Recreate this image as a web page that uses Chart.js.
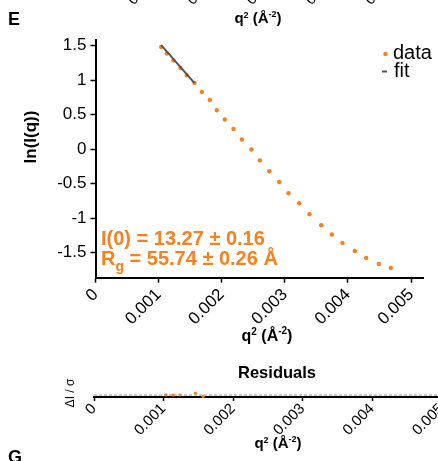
<!DOCTYPE html>
<html>
<head>
<meta charset="utf-8">
<script src="https://cdn.jsdelivr.net/npm/chart.js@4"></script>
<style>
  html, body { margin: 0; padding: 0; background: #fff; overflow: hidden; width: 438px; height: 461px; }
  canvas { position: absolute; left: 0; }
  #guinier { top: 0; }
  #residuals { top: 350px; }
</style>
</head>
<body>
<canvas id="guinier" width="438" height="350"></canvas>
<canvas id="residuals" width="500" height="111"></canvas>
<script>
// Guinier region: q^2 (1/A^2) vs ln(I(q))
const q2 = [0.001041, 0.00113, 0.001236, 0.001347, 0.001447, 0.001569, 0.001685, 0.001811,
  0.001922, 0.002049, 0.002187, 0.002319, 0.002472, 0.002604, 0.002753, 0.002911, 0.003059,
  0.003228, 0.003391, 0.003577, 0.003745, 0.003914, 0.004109, 0.00429, 0.00449, 0.00468];
const lnI = [1.483, 1.387, 1.286, 1.178, 1.072, 0.961, 0.83, 0.714, 0.565, 0.43, 0.294, 0.142,
  -0.003, -0.162, -0.319, -0.474, -0.638, -0.783, -0.942, -1.101, -1.236, -1.358, -1.474,
  -1.575, -1.662, -1.72];

// linear fit over the first points
const fitQ2 = [0.001041, 0.001569];
const fitLnI = [1.508, 0.959];

// normalised residuals of the fitted points
const resQ2 = [0.001036, 0.00114, 0.001237, 0.00146, 0.00157];
const resValues = [0.1, 0, 0, 1.8, -1.3];
const zeroLineQ2 = [0, 0.0052];

const xTicks = [0, 0.001, 0.002, 0.003, 0.004, 0.005];
const xTickLabels = ["0", "0.001", "0.002", "0.003", "0.004", "0.005"];
const yTicks = [-1.5, -1, -0.5, 0, 0.5, 1, 1.5];
const yTickLabels = ["-1.5", "-1", "-0.5", "0", "0.5", "1", "1.5"];

const FONT = '"Liberation Sans", Arial, sans-serif';
const ORANGE = "#f5821f";
const INK = "#000";

function points(xs, ys) {
  return xs.map((x, i) => ({ x: x, y: ys[i] }));
}

// draws a run of text pieces with their own size / vertical shift
function richText(ctx, parts, x, y, align) {
  let total = 0;
  parts.forEach((p) => {
    ctx.font = `${p.bold ? "bold " : ""}${p.size}px ${FONT}`;
    p.w = ctx.measureText(p.text).width;
    total += p.w;
  });
  let cx = align === "center" ? x - total / 2 : x;
  ctx.textAlign = "left";
  ctx.textBaseline = "alphabetic";
  parts.forEach((p) => {
    ctx.font = `${p.bold ? "bold " : ""}${p.size}px ${FONT}`;
    ctx.fillText(p.text, cx, y + (p.dy || 0));
    cx += p.w;
  });
}

function q2Title(size) {
  const sup = Math.round(size * 0.62);
  return [
    { text: "q", size: size, bold: true },
    { text: "2", size: sup, bold: true, dy: -size * 0.36 },
    { text: " (Å", size: size, bold: true },
    { text: "-2", size: sup, bold: true, dy: -size * 0.42 },
    { text: ")", size: size, bold: true },
  ];
}

const guinierDecor = {
  id: "guinierDecor",
  afterDraw(chart) {
    const ctx = chart.ctx;
    ctx.save();
    ctx.fillStyle = INK;

    // panel letter and the tail of the panel above
    ctx.font = `bold 18px ${FONT}`;
    ctx.fillText("E", 8, 25);
    richText(ctx, q2Title(15), 258, 23, "center");
    ctx.font = `15px ${FONT}`;
    ["0.001", "0.002", "0.003", "0.004", "0.005"].forEach((t, i) => {
      ctx.save();
      ctx.translate(160 + i * 59.3, -21);
      ctx.rotate(-Math.PI / 4);
      ctx.textAlign = "right";
      ctx.fillText(t, 0, 0);
      ctx.restore();
    });

    // axis titles
    richText(ctx, q2Title(16), 267, 341, "center");
    ctx.save();
    ctx.translate(31, 137);
    ctx.rotate(-Math.PI / 2);
    ctx.font = `bold 17px ${FONT}`;
    ctx.textAlign = "center";
    ctx.textBaseline = "middle";
    ctx.fillText("ln(I(q))", 0, 0);
    ctx.restore();

    // fit result
    ctx.fillStyle = ORANGE;
    richText(ctx, [{ text: "I(0) = 13.27 ± 0.16", size: 20, bold: true }], 101, 245);
    richText(ctx, [
      { text: "R", size: 20, bold: true },
      { text: "g", size: 14, bold: true, dy: 6 },
      { text: " = 55.74 ± 0.26 Å", size: 20, bold: true },
    ], 101, 265);

    // legend
    const data = chart.data.datasets[1];
    const fit = chart.data.datasets[0];
    ctx.fillStyle = data.backgroundColor;
    ctx.beginPath();
    ctx.arc(385.5, 54, 2.2, 0, Math.PI * 2);
    ctx.fill();
    ctx.strokeStyle = fit.borderColor;
    ctx.lineWidth = 2;
    ctx.beginPath();
    ctx.moveTo(382, 71.5);
    ctx.lineTo(387, 71.5);
    ctx.stroke();
    ctx.fillStyle = INK;
    ctx.font = `20px ${FONT}`;
    ctx.fillText(data.label, 393, 58.5);
    ctx.fillText(fit.label, 394, 77);
    ctx.restore();
  },
};

const residualDecor = {
  id: "residualDecor",
  afterDraw(chart) {
    const ctx = chart.ctx;
    ctx.save();
    ctx.fillStyle = INK;
    ctx.font = `bold 16.5px ${FONT}`;
    ctx.textAlign = "center";
    ctx.fillText("Residuals", 277, 28);
    ctx.save();
    ctx.translate(71, 43);
    ctx.rotate(-Math.PI / 2);
    ctx.font = `12px ${FONT}`;
    ctx.textAlign = "center";
    ctx.textBaseline = "middle";
    ctx.fillText("ΔI / σ", 0, 0);
    ctx.restore();
    richText(ctx, q2Title(15), 278, 98, "center");
    ctx.font = `bold 18px ${FONT}`;
    ctx.textAlign = "left";
    ctx.fillText("G", 8, 113);
    ctx.restore();
  },
};

function xAxis(max, height, size, tickLen, pad) {
  return {
    type: "linear",
    min: 0,
    max: max,
    afterFit: (s) => { s.height = height; },
    afterBuildTicks: (s) => { s.ticks = xTicks.map((v) => ({ value: v })); },
    grid: { drawOnChartArea: false, tickLength: tickLen, tickWidth: 1.5, color: INK },
    border: { color: INK, width: 2 },
    ticks: {
      autoSkip: false,
      minRotation: 45,
      maxRotation: 45,
      padding: pad,
      color: INK,
      font: { family: FONT, size: size },
      callback: (v) => xTickLabels[xTicks.indexOf(v)],
    },
  };
}

new Chart(document.getElementById("guinier"), {
  type: "scatter",
  data: {
    datasets: [
      {
        label: "fit",
        data: points(fitQ2, fitLnI),
        showLine: true,
        borderColor: "#555555",
        borderWidth: 2,
        pointRadius: 0,
        order: 0,
      },
      {
        label: "data",
        data: points(q2, lnI),
        backgroundColor: ORANGE,
        borderWidth: 0,
        pointRadius: 2.2,
        order: 1,
      },
    ],
  },
  options: {
    responsive: false,
    animation: false,
    events: [],
    layout: { padding: { left: 0, top: 40, right: 15, bottom: 0 } },
    plugins: { legend: { display: false }, tooltip: { enabled: false } },
    scales: {
      x: xAxis(0.00519, 72.3, 17, 5, 2),
      y: {
        min: -1.862,
        max: 1.583,
        afterFit: (s) => { s.width = 95.5; },
        afterBuildTicks: (s) => { s.ticks = yTicks.map((v) => ({ value: v })); },
        grid: { drawOnChartArea: false, tickLength: 5, tickWidth: 1.5, color: INK },
        border: { color: INK, width: 2 },
        ticks: {
          padding: 4,
          color: INK,
          font: { family: FONT, size: 17 },
          callback: (v) => yTickLabels[yTicks.indexOf(v)],
        },
      },
    },
  },
  plugins: [guinierDecor],
});

new Chart(document.getElementById("residuals"), {
  type: "scatter",
  data: {
    datasets: [
      {
        label: "residuals",
        data: points(resQ2, resValues),
        backgroundColor: ORANGE,
        borderWidth: 0,
        pointRadius: 1.6,
        clip: false,
        order: 0,
      },
      {
        label: "zero",
        data: points(zeroLineQ2, [0, 0]),
        showLine: true,
        borderColor: "#b8b8b8",
        borderWidth: 1.5,
        borderDash: [3, 2],
        pointRadius: 0,
        clip: false,
        order: 1,
      },
    ],
  },
  options: {
    responsive: false,
    animation: false,
    events: [],
    layout: { padding: { left: 0, top: 43, right: 44.6, bottom: 0 } },
    plugins: { legend: { display: false }, tooltip: { enabled: false } },
    scales: {
      x: xAxis(0.0052, 64, 15, 4, -1),
      y: {
        min: -2,
        max: 2,
        afterFit: (s) => { s.width = 94; },
        grid: { display: false },
        border: { display: false },
        ticks: { display: false },
      },
    },
  },
  plugins: [residualDecor],
});
</script>
</body>
</html>
